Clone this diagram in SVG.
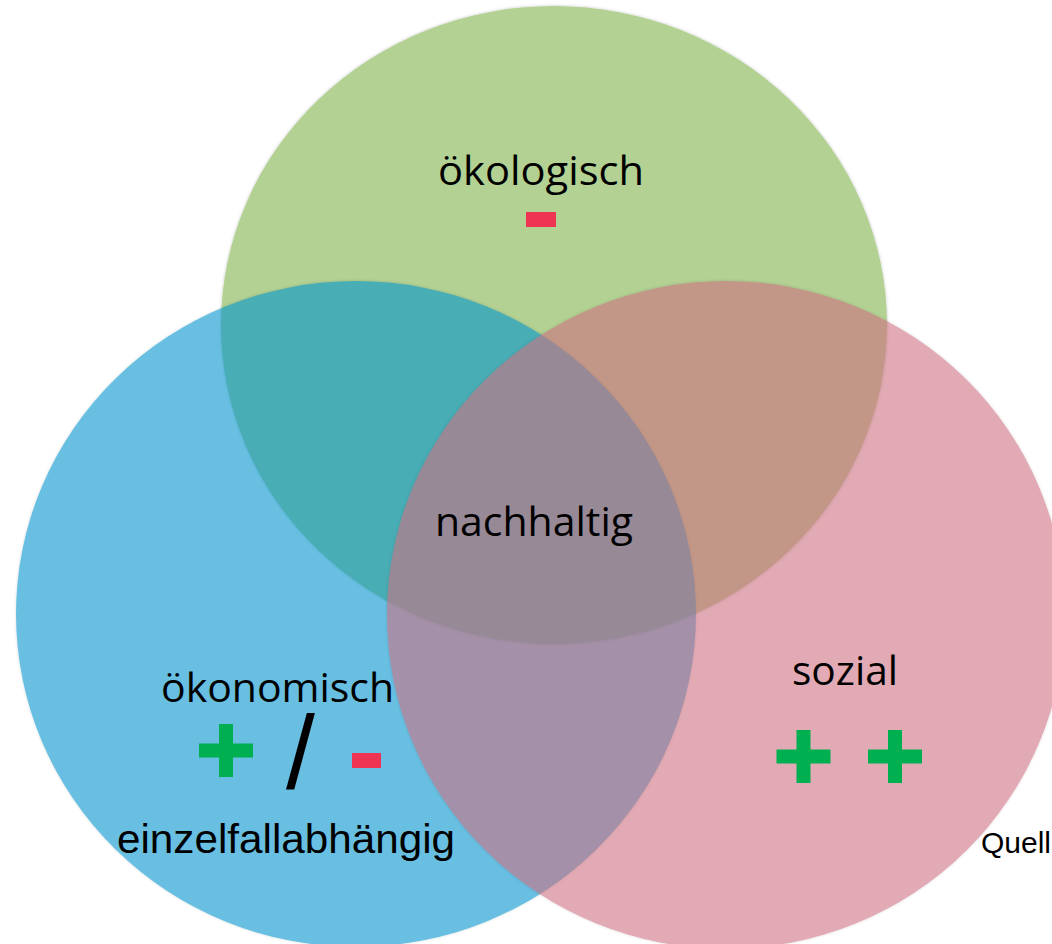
<svg xmlns="http://www.w3.org/2000/svg" xmlns:xlink="http://www.w3.org/1999/xlink" width="1052" height="944" viewBox="0 0 1052 944">
  <style>
    .lbl { font-family: "Open Sans", "Noto Sans", sans-serif; font-size: 41px; fill: #000; text-anchor: middle; }
    .arial { font-family: "Liberation Sans", Arial, sans-serif; fill: #000; }
    .plus { fill: #00B050; }
    .minus { fill: #EE3452; }
    .blend { opacity: 0.59; }
    .soft { filter: url(#softEdge); }
  </style>
  <defs>
    <path id="plusShape" d="M-27,-7 H-7 V-26.5 H7 V-7 H27 V7 H7 V26.5 H-7 V7 H-27 Z"/>
    <filter id="softEdge" x="-5%" y="-5%" width="110%" height="110%">
      <feDropShadow dx="0" dy="0" stdDeviation="1.5" flood-color="#000" flood-opacity="0.25"/>
    </filter>
  </defs>
  <rect x="0" y="0" width="1052" height="944" fill="#ffffff"/>

  <g id="node-oekologisch">
    <ellipse class="soft" cx="554" cy="325" rx="333" ry="319" fill="#B2D192"/>
    <text class="lbl" x="541" y="185" textLength="206" lengthAdjust="spacingAndGlyphs">ökologisch</text>
    <rect class="minus" x="526" y="212" width="30" height="15"/>
  </g>

  <g id="node-oekonomisch">
    <ellipse class="blend soft" cx="356" cy="614" rx="340" ry="333" fill="#0094CE"/>
    <text class="lbl" x="277.5" y="702" textLength="233" lengthAdjust="spacingAndGlyphs">ökonomisch</text>
    <use xlink:href="#plusShape" class="plus" x="226" y="750.5"/>
    <text class="arial" x="286" y="788" font-size="104">/</text>
    <rect class="minus" x="352" y="753" width="29" height="15"/>
    <text class="arial" x="117" y="853" font-size="40" textLength="338" lengthAdjust="spacingAndGlyphs">einzelfallabhängig</text>
  </g>

  <g id="node-sozial">
    <ellipse class="blend soft" cx="726" cy="615" rx="339" ry="334" fill="#CE6F80"/>
    <text class="lbl" x="845" y="685" textLength="106" lengthAdjust="spacingAndGlyphs">sozial</text>
    <use xlink:href="#plusShape" class="plus" x="803.5" y="756.5"/>
    <use xlink:href="#plusShape" class="plus" x="895" y="756.5"/>
  </g>

  <g id="node-nachhaltig">
    <text class="lbl" x="534" y="536" textLength="198" lengthAdjust="spacingAndGlyphs">nachhaltig</text>
  </g>

  <g id="connectors"></g>

  <g id="source">
    <text class="arial" x="981" y="853" font-size="30">Quell</text>
  </g>
</svg>
